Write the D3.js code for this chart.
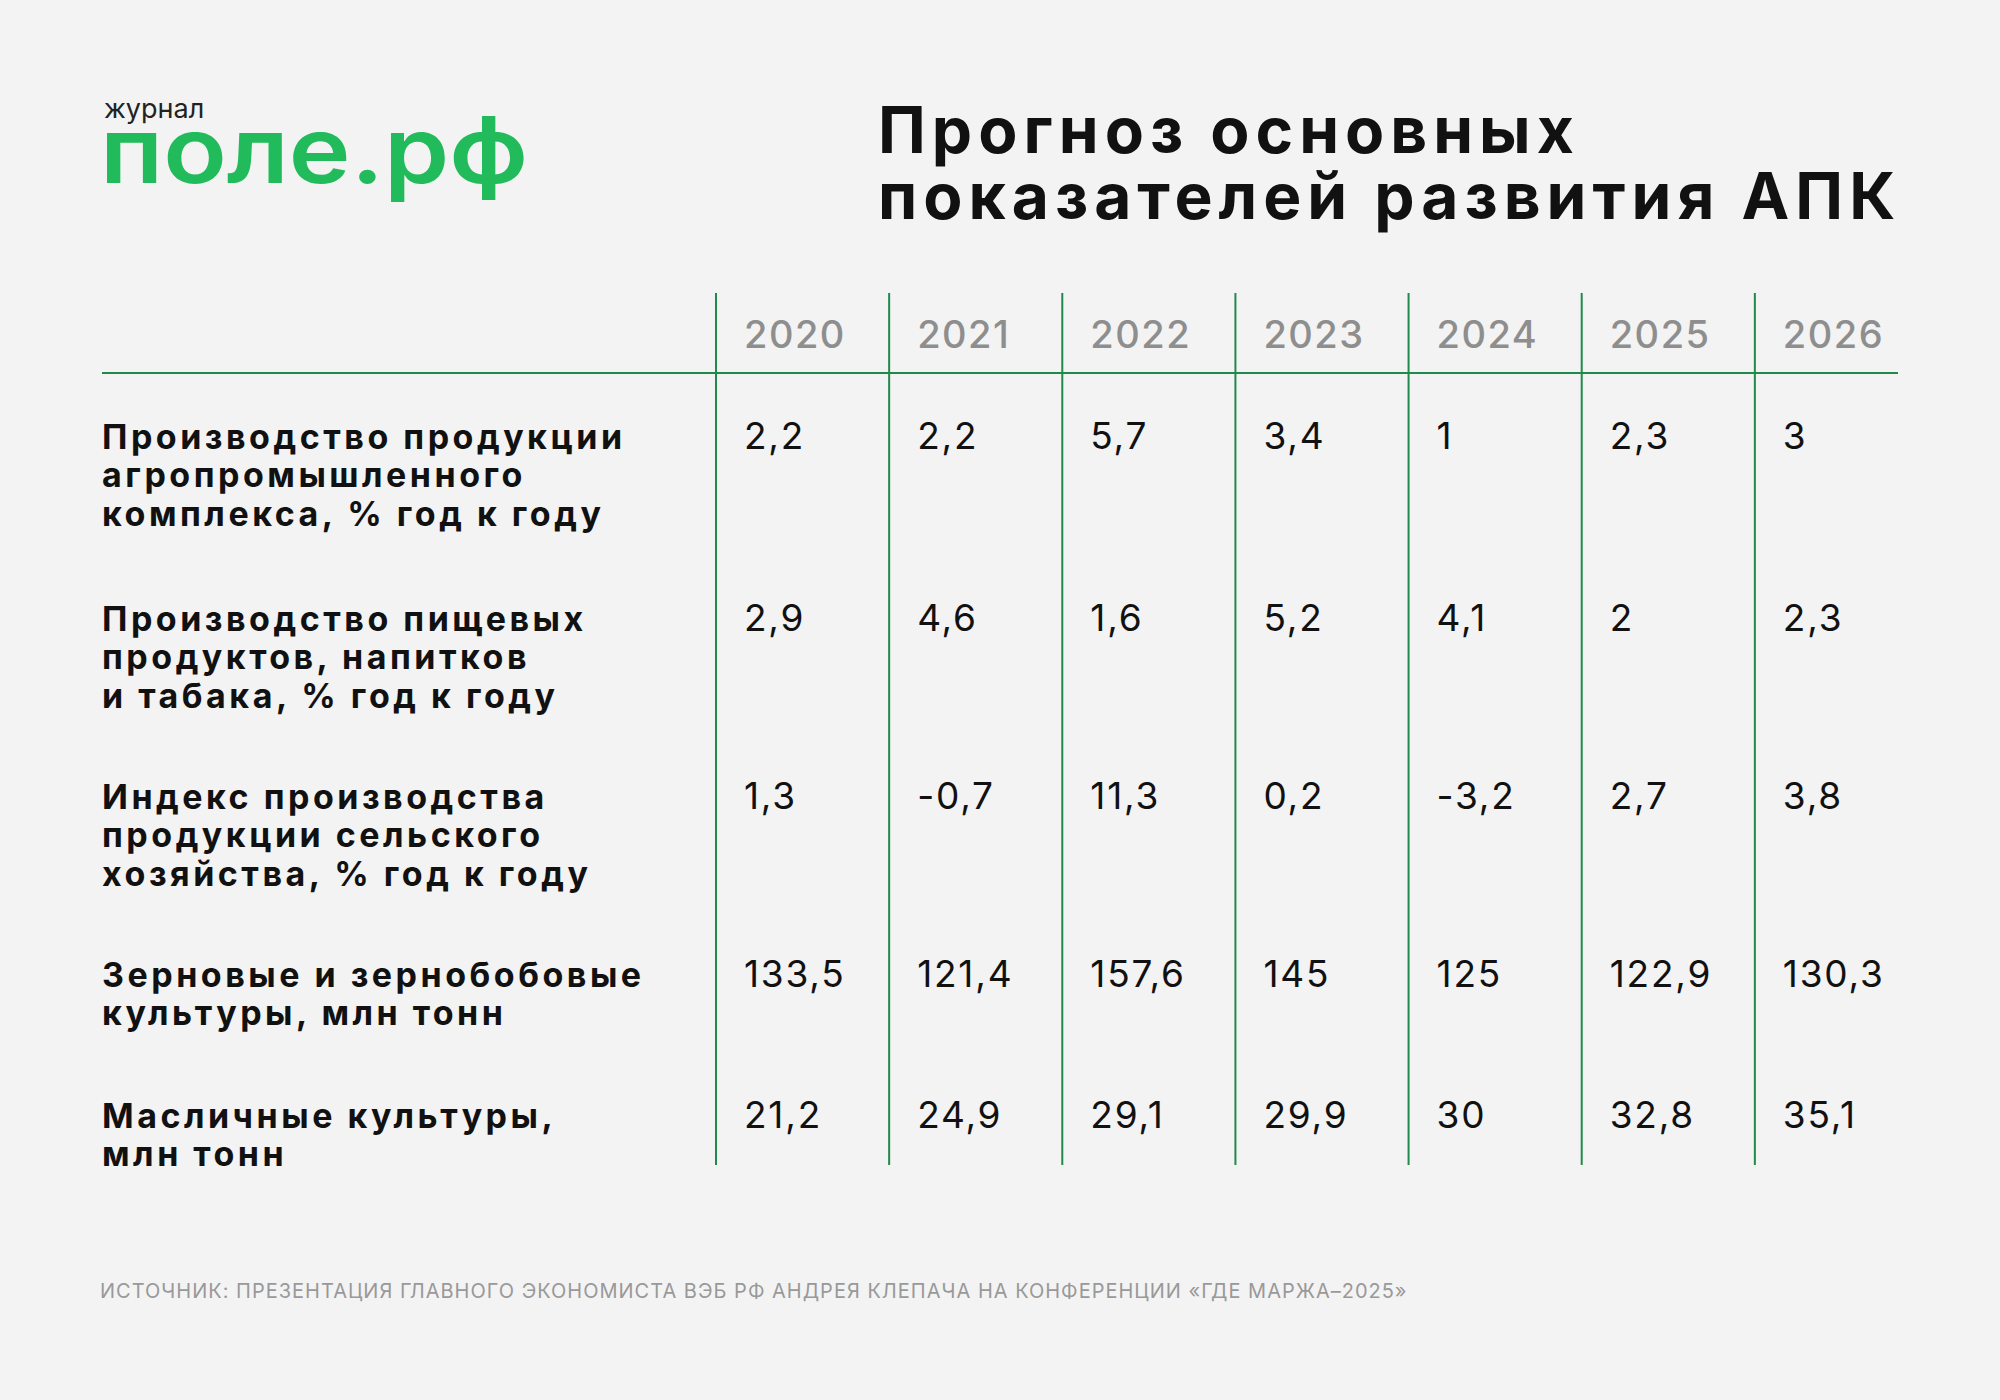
<!DOCTYPE html>
<html><head><meta charset="utf-8">
<script src="https://cdn.jsdelivr.net/npm/d3@7"></script>
<style>body{margin:0;background:#f3f3f3}svg{display:block}</style>
</head><body>
<script>
// data
const years = ['2020','2021','2022','2023','2024','2025','2026'];
const rowLabels = [
  ['Производство продукции', 'агропромышленного', 'комплекса, % год к году'],
  ['Производство пищевых', 'продуктов, напитков', 'и табака, % год к году'],
  ['Индекс производства', 'продукции сельского', 'хозяйства, % год к году'],
  ['Зерновые и зернобобовые', 'культуры, млн тонн'],
  ['Масличные культуры,', 'млн тонн']
];
const rowValues = [
  ['2,2','2,2','5,7','3,4','1','2,3','3'],
  ['2,9','4,6','1,6','5,2','4,1','2','2,3'],
  ['1,3','-0,7','11,3','0,2','-3,2','2,7','3,8'],
  ['133,5','121,4','157,6','145','125','122,9','130,3'],
  ['21,2','24,9','29,1','29,9','30','32,8','35,1']
];
const rowBaselines = [449, 631, 809, 987, 1128];

const W = 2000, H = 1400;
const font = 'Inter, "Noto Sans", sans-serif';
const green = '#22bb5b';
const svg = d3.select('body').append('svg').attr('width', W).attr('height', H);
svg.append('rect').attr('width', W).attr('height', H).attr('fill', '#f3f3f3');

// logo
svg.append('text').attr('x', 104).attr('y', 118).attr('font-family', font)
  .attr('font-size', 27).attr('fill', '#222').text('журнал');
svg.append('text').attr('x', 100).attr('y', 183).attr('font-family', font)
  .attr('font-size', 92).attr('font-weight', 600).attr('fill', green)
  .attr('textLength', 428).attr('lengthAdjust', 'spacingAndGlyphs').text('поле.рф');

// title
svg.selectAll('text.title').data(['Прогноз основных', 'показателей развития АПК']).join('text')
  .attr('x', 878).attr('y', (d, i) => 153 + i * 66)
  .attr('font-family', font).attr('font-size', 64).attr('font-weight', 700)
  .attr('letter-spacing', 6).attr('fill', '#111').text(d => d);

// columns
const x = d3.scaleBand().domain(years).range([716, 1928]);
const colX = y => x(y);

svg.selectAll('line.col').data(years).join('line')
  .attr('x1', d => colX(d)).attr('x2', d => colX(d))
  .attr('y1', 293).attr('y2', 1165).attr('stroke', '#1f8a4c').attr('stroke-width', 2);
svg.append('line').attr('x1', 102).attr('x2', 1898).attr('y1', 373).attr('y2', 373)
  .attr('stroke', '#1f8a4c').attr('stroke-width', 2);

svg.selectAll('text.year').data(years).join('text')
  .attr('x', d => colX(d) + 28).attr('y', 348)
  .attr('font-family', font).attr('font-size', 38).attr('font-weight', 500)
  .attr('letter-spacing', 1.5).attr('fill', '#8e8e8e').text(d => d);

// rows
rowLabels.forEach((lines, r) => {
  svg.selectAll('text.l' + r).data(lines).join('text')
    .attr('x', 102).attr('y', (d, i) => rowBaselines[r] + i * 38.3)
    .attr('font-family', font).attr('font-size', 34).attr('font-weight', 700)
    .attr('letter-spacing', 3.5).attr('fill', '#111').text(d => d);
  svg.selectAll('text.v' + r).data(rowValues[r]).join('text')
    .attr('x', (d, i) => colX(years[i]) + 28).attr('y', rowBaselines[r])
    .attr('font-family', font).attr('font-size', 37).attr('letter-spacing', 1.8)
    .attr('fill', '#111').text(d => d);
});

// source
svg.append('text').attr('x', 100).attr('y', 1298).attr('font-family', font)
  .attr('font-size', 20).attr('letter-spacing', 1).attr('fill', '#999')
  .text('ИСТОЧНИК: ПРЕЗЕНТАЦИЯ ГЛАВНОГО ЭКОНОМИСТА ВЭБ РФ АНДРЕЯ КЛЕПАЧА НА КОНФЕРЕНЦИИ «ГДЕ МАРЖА–2025»');
</script>
</body></html>
